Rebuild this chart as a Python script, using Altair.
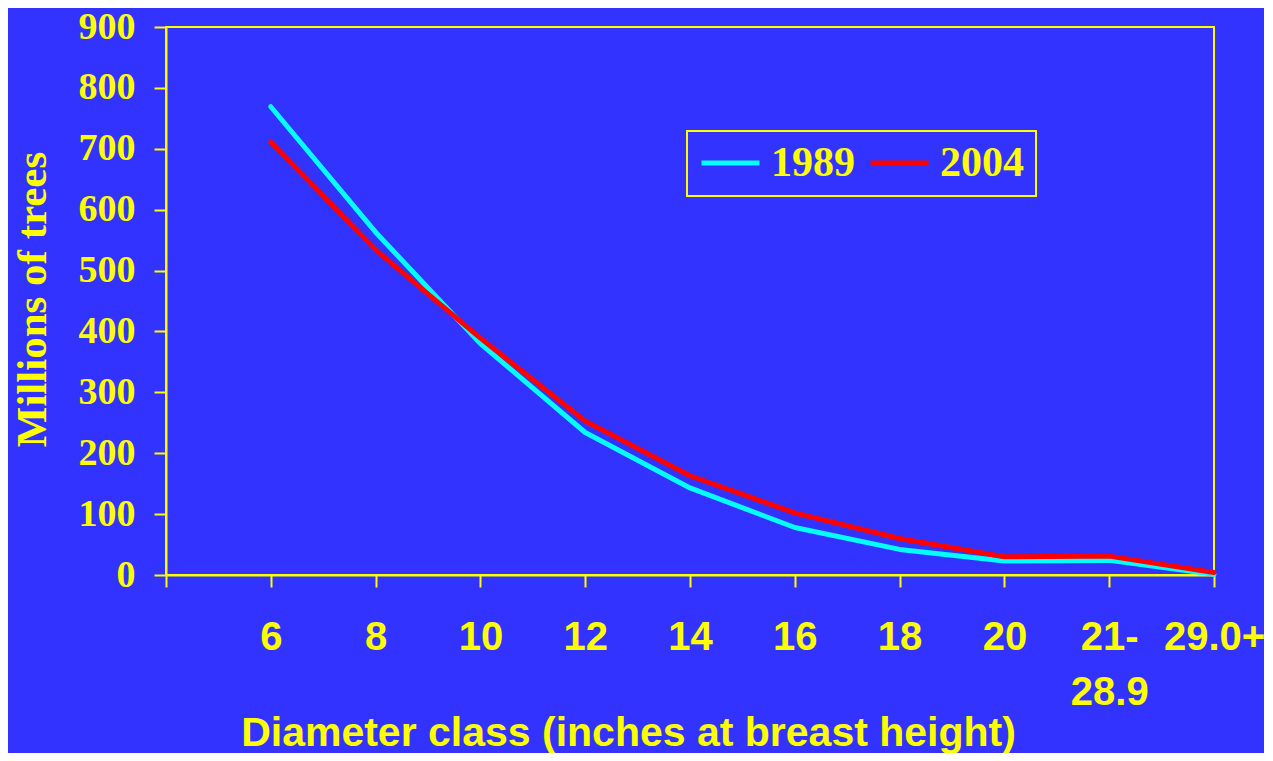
import altair as alt
import pandas as pd

categories = ["6", "8", "10", "12", "14", "16", "18", "20", "21-28.9", "29.0+"]
trees_1989 = [769, 563, 380, 234, 143, 78, 42, 23, 24, 1]
trees_2004 = [711, 534, 389, 253, 163, 102, 60, 30, 31, 4]
series = ["1989", "2004"]
series_colors = ["#00FFFF", "#FF0000"]
y_ticks = list(range(0, 901, 100))

rows = []
for s, vals in zip(series, [trees_1989, trees_2004]):
    for c, v in zip(categories, vals):
        rows.append({"cls": c, "trees": v, "year": s})
df = pd.DataFrame(rows)

x_domain = [""] + categories

YELLOW = "#FFFF00"
BG = "#3333FF"

chart = alt.Chart(df).mark_line(
    strokeWidth=5, strokeCap="round", strokeJoin="round"
).encode(
    x=alt.X(
        "cls:N",
        scale=alt.Scale(domain=x_domain, type="point", padding=0),
        axis=alt.Axis(
            title="Diameter class (inches at breast height)",
            labelExpr="split(replace(datum.label, '-', '-|'), '|')",
            labelFont="Liberation Sans",
            labelFontWeight="bold",
            labelFontSize=40,
            labelColor=YELLOW,
            labelPadding=30,
            labelLineHeight=55,
            labelAngle=0,
            labelBaseline="top",
            titleFont="Liberation Sans",
            titleFontWeight="bold",
            titleFontSize=41,
            titleColor=YELLOW,
            titleX=462,
            titleY=170,
            titleAlign="center",
            titleBaseline="alphabetic",
            titleAnchor="start",
        ),
    ),
    y=alt.Y(
        "trees:Q",
        scale=alt.Scale(domain=[0, 900], nice=False),
        axis=alt.Axis(
            title="Millions of trees",
            values=y_ticks,
            labelFont="Liberation Serif",
            labelFontWeight="bold",
            labelFontSize=38,
            labelColor=YELLOW,
            labelPadding=19,
            titleFont="Liberation Serif",
            titleFontWeight="bold",
            titleFontSize=43,
            titleColor=YELLOW,
            titleX=-134,
            titleY=272,
            titleAngle=270,
            titleAlign="center",
            titleBaseline="middle",
            titleAnchor="start",
        ),
    ),
    color=alt.Color(
        "year:N",
        scale=alt.Scale(domain=series, range=series_colors),
        legend=alt.Legend(
            title=None,
            orient="none",
            legendX=521,
            legendY=104,
            direction="horizontal",
            symbolType="stroke",
            symbolSize=3364,
            symbolStrokeWidth=5,
            labelFont="Liberation Serif",
            labelFontWeight="bold",
            labelFontSize=42,
            labelColor=YELLOW,
            labelOffset=9,
            columnPadding=13,
            padding=12,
            clipHeight=40,
            strokeColor=YELLOW,
        ),
    ),
).properties(
    width=1048,
    height=548,
    autosize=alt.AutoSizeParams(type="none"),
    padding={"left": 158, "top": 19, "right": 50, "bottom": 178},
    background=BG,
).configure_view(
    stroke=YELLOW, strokeWidth=2
).configure_axis(
    grid=False,
    domainColor=YELLOW,
    domainWidth=2,
    tickColor=YELLOW,
    tickWidth=2,
    tickSize=12,
).configure_legend(
    strokeWidth=2
)

chart.save("out.html", embed_options={"renderer": "svg", "actions": False})
